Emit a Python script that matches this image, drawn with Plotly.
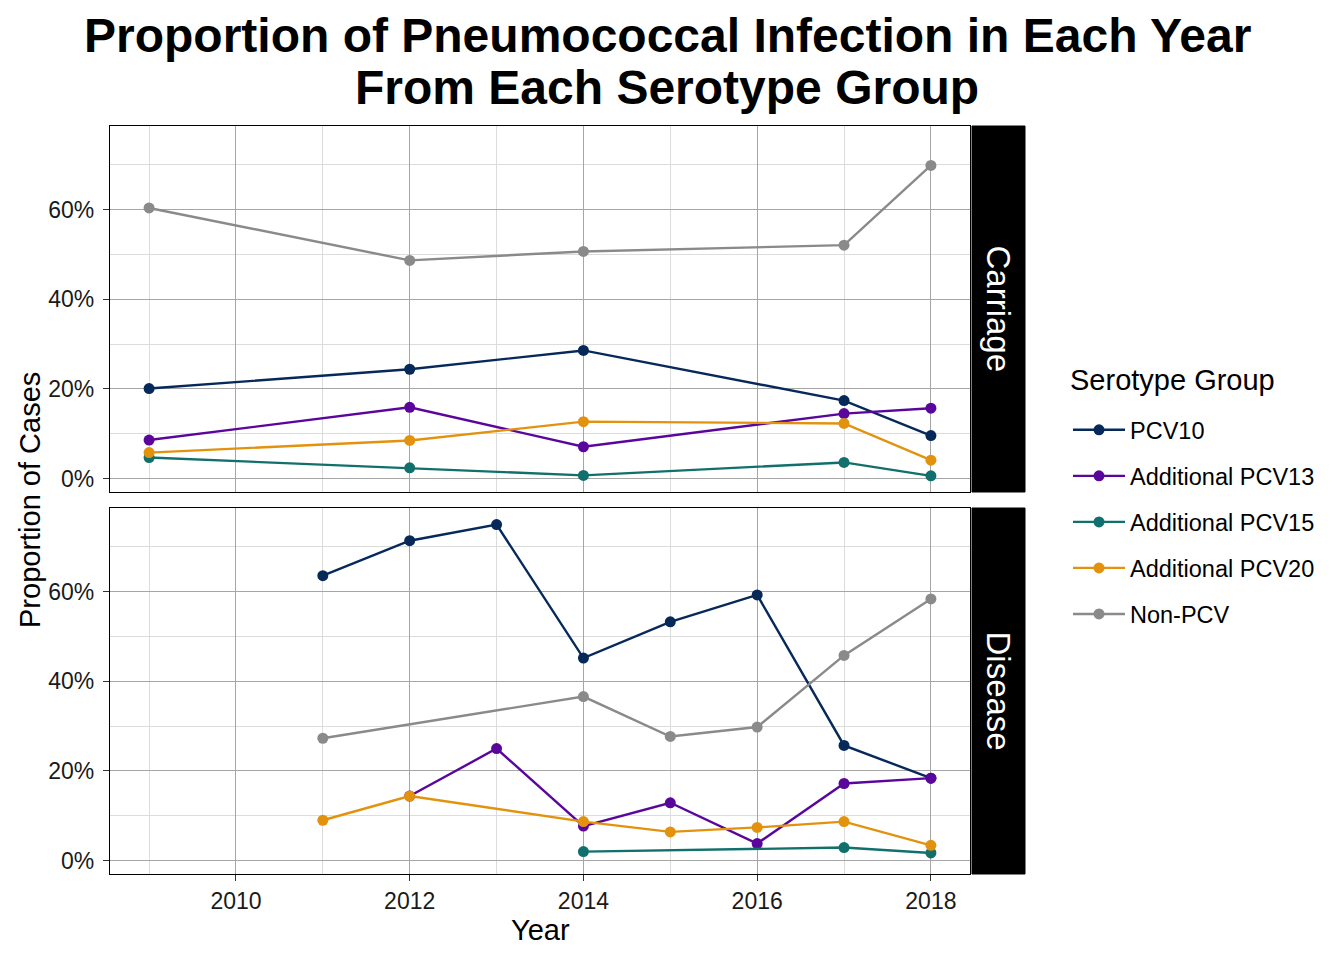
"""Faceted line chart: pneumococcal serotype group proportions by year."""

import plotly.graph_objects as go

FONT = "Liberation Sans, Arial, sans-serif"

groups = ["PCV10", "Additional PCV13", "Additional PCV15", "Additional PCV20", "Non-PCV"]
colors = ["#06295A", "#5A069C", "#11706C", "#E3920E", "#8A8A8A"]
facets = ["Carriage", "Disease"]

carriage_years = [2009, 2012, 2014, 2017, 2018]
carriage_pcv10 = [20.1, 24.4, 28.6, 17.4, 9.6]
carriage_pcv13 = [8.6, 15.9, 7.1, 14.5, 15.7]
carriage_pcv15 = [4.7, 2.4, 0.7, 3.6, 0.6]
carriage_pcv20 = [5.8, 8.5, 12.7, 12.3, 4.1]
carriage_nonpcv = [60.4, 48.7, 50.7, 52.1, 69.9]

disease_years = [2011, 2012, 2013, 2014, 2015, 2016, 2017, 2018]
disease_pcv10 = [63.6, 71.4, 75.0, 45.2, 53.3, 59.3, 25.7, 18.4]
disease_pcv13 = [None, 14.4, 25.0, 7.7, 12.9, 3.8, 17.2, 18.4]
disease_pcv15 = [None, None, None, 2.0, None, None, 2.9, 1.7]
disease_pcv20 = [9.0, 14.4, None, 8.7, 6.4, 7.4, 8.7, 3.4]
disease_nonpcv = [27.3, None, None, 36.6, 27.7, 29.8, 45.8, 58.4]

y_ticks = [0, 20, 40, 60]
x_ticks = [2010, 2012, 2014, 2016, 2018]

carriage = [carriage_pcv10, carriage_pcv13, carriage_pcv15, carriage_pcv20, carriage_nonpcv]
disease = [disease_pcv10, disease_pcv13, disease_pcv15, disease_pcv20, disease_nonpcv]

# the page body adds an 8px margin, so the figure is shrunk to fit and
# positions below are given in screenshot pixels
OFF = 8
W, H = 1344 - OFF, 960 - OFF
PX_L, PX_R = 110, 970
TOP_PANEL = (126, 492)
BOT_PANEL = (508, 874)
STRIP = (972, 1025)


def fx(px):
    return (px - OFF) / W


def fy(py):
    return 1 - (py - OFF) / H


fig = go.Figure()

for i, g in enumerate(groups):
    fig.add_trace(go.Scatter(
        x=carriage_years, y=carriage[i], name=g, mode="lines+markers",
        line=dict(color=colors[i], width=2.4), marker=dict(size=11, color=colors[i]),
        legendgroup=g, showlegend=True, connectgaps=True,
        xaxis="x", yaxis="y",
    ))
for i, g in enumerate(groups):
    fig.add_trace(go.Scatter(
        x=disease_years, y=disease[i], name=g, mode="lines+markers",
        line=dict(color=colors[i], width=2.4), marker=dict(size=11, color=colors[i]),
        legendgroup=g, showlegend=False, connectgaps=True,
        xaxis="x2", yaxis="y2",
    ))

x_common = dict(
    range=[2008.55, 2018.45], tickvals=x_ticks, showgrid=True,
    gridcolor="#A6A6A6", gridwidth=0.8, zeroline=False,
    showline=True, linecolor="black", linewidth=1.2, mirror=True,
    minor=dict(dtick=1, tick0=2009, showgrid=True, gridcolor="#DCDCDC", gridwidth=0.8),
    domain=[fx(PX_L), fx(PX_R)],
)
y_common = dict(
    range=[-3.0, 78.7], tickvals=y_ticks, ticktext=[f"{v}%" for v in y_ticks],
    showgrid=True, gridcolor="#A6A6A6", gridwidth=0.8, zeroline=False,
    showline=True, linecolor="black", linewidth=1.2, mirror=True,
    ticks="outside", ticklen=6, tickcolor="#333333", ticklabelstandoff=4,
    tickfont=dict(size=23, color="#1a1a1a"),
    minor=dict(dtick=20, tick0=10, showgrid=True, gridcolor="#DCDCDC", gridwidth=0.8),
)

fig.update_layout(
    width=W, height=H,
    margin=dict(l=0, r=0, t=0, b=0),
    plot_bgcolor="white", paper_bgcolor="white",
    font=dict(family=FONT, color="black"),
    xaxis=dict(**x_common, anchor="y", showticklabels=False, ticks=""),
    yaxis=dict(**y_common, domain=[fy(TOP_PANEL[1]), fy(TOP_PANEL[0])], anchor="x"),
    xaxis2=dict(**x_common, anchor="y2", ticks="outside", ticklen=6, tickcolor="#333333",
                tickfont=dict(size=23, color="#1a1a1a")),
    yaxis2=dict(**y_common, domain=[fy(BOT_PANEL[1]), fy(BOT_PANEL[0])], anchor="x2"),
    legend=dict(
        font=dict(size=23.5),
        x=fx(1068), xanchor="left", y=fy(408), yanchor="top",
        tracegroupgap=12.5, traceorder="grouped", itemwidth=52,
        bgcolor="rgba(0,0,0,0)",
    ),
)

# title, two centred lines
title_lines = ["Proportion of Pneumococcal Infection in Each Year", "From Each Serotype Group"]
for line, ypx in zip(title_lines, [35, 87]):
    fig.add_annotation(text=f"<b>{line}</b>", xref="paper", yref="paper",
                       x=fx(667), y=fy(ypx), xanchor="center", yanchor="middle",
                       showarrow=False, font=dict(size=48, family=FONT, color="black"))

# legend title
fig.add_annotation(text="Serotype Group", xref="paper", yref="paper",
                   x=fx(1068), y=fy(380), xanchor="left", yanchor="middle",
                   showarrow=False, font=dict(size=29, family=FONT))

# facet strips
for facet, (top, bot) in zip(facets, [TOP_PANEL, BOT_PANEL]):
    fig.add_shape(type="rect", xref="paper", yref="paper",
                  x0=fx(STRIP[0]), x1=fx(STRIP[1]), y0=fy(bot), y1=fy(top),
                  fillcolor="black", line=dict(color="black", width=1))
    fig.add_annotation(text=facet, xref="paper", yref="paper",
                       x=fx((STRIP[0] + STRIP[1]) / 2), y=fy((top + bot) / 2),
                       xanchor="center", yanchor="middle",
                       textangle=90, showarrow=False,
                       font=dict(size=33, color="white", family=FONT))

# axis titles
fig.add_annotation(text="Year", xref="paper", yref="paper",
                   x=fx((PX_L + PX_R) / 2), y=fy(930), xanchor="center", yanchor="middle",
                   showarrow=False, font=dict(size=29, family=FONT))
fig.add_annotation(text="Proportion of Cases", xref="paper", yref="paper",
                   x=fx(30), y=fy(500), xanchor="center", yanchor="middle",
                   textangle=-90, showarrow=False, font=dict(size=29, family=FONT))

fig.write_html("out.html")
